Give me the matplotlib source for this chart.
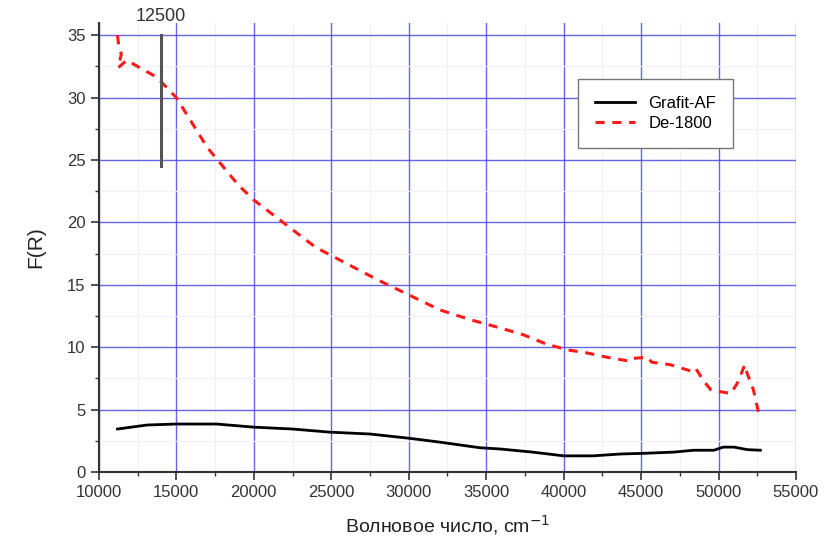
import numpy as np
import matplotlib.pyplot as plt
from matplotlib.ticker import MultipleLocator

plt.rcParams["font.family"] = ["Liberation Sans", "DejaVu Sans"]

# Grafit-AF (solid black)
grafit_x = [11200, 13100, 15000, 17600, 20000, 22500, 24900, 27500, 30100,
            32000, 34600, 35900, 38000, 40000, 41900, 43700, 45100, 47100,
            48400, 49700, 50300, 51000, 51850, 52700]
grafit_y = [3.45, 3.77, 3.85, 3.85, 3.6, 3.45, 3.2, 3.05, 2.7,
            2.4, 1.95, 1.85, 1.6, 1.3, 1.3, 1.45, 1.5, 1.6,
            1.75, 1.75, 2.0, 2.0, 1.8, 1.75]

# De-1800 (red dashed)
de_x = [11200, 11300, 11450, 11250, 11800, 12500, 13500, 14000, 15000,
        16000, 17000, 18000, 19000, 20000, 22000, 24000, 26000, 28000,
        30000, 32000, 34000, 35900, 37400, 38800, 40200, 41500, 42800,
        44200, 44400, 45400, 45700, 46900, 48200, 48500, 49100, 49500,
        50300, 50800, 51200, 51700, 51850, 52250, 52650]
de_y = [35.0, 34.0, 33.5, 32.4, 33.0, 32.5, 31.8, 31.3, 30.0,
        28.0, 26.0, 24.5, 23.0, 21.8, 19.9, 18.0, 16.7, 15.4,
        14.2, 13.0, 12.2, 11.55, 11.0, 10.3, 9.8, 9.55, 9.2,
        8.9, 9.1, 9.2, 8.8, 8.6, 8.1, 8.35, 7.2, 6.6,
        6.4, 6.3, 7.1, 8.6, 7.9, 6.6, 4.4]

marker_x = 14000
marker_y = (24.5, 35.0)
marker_label = "12500"

fig = plt.figure(figsize=(8.24, 5.42), dpi=100)
ax = fig.add_axes([0.120, 0.129, 0.846, 0.829])

ax.plot(grafit_x, grafit_y, color="black", linewidth=2.0, label="Grafit-AF")
ax.plot(de_x, de_y, color="#ff1a1a", linewidth=2.2, linestyle=(0, (3, 2.5)),
        label="De-1800")

ax.plot([marker_x, marker_x], marker_y, color="#555555", linewidth=2.2)
ax.text(marker_x, 35.8, marker_label, ha="center", va="bottom", fontsize=13,
        color="#333333")

ax.set_xlim(10000, 55000)
ax.set_ylim(0, 36)
ax.xaxis.set_major_locator(MultipleLocator(5000))
ax.xaxis.set_minor_locator(MultipleLocator(2500))
ax.yaxis.set_major_locator(MultipleLocator(5))
ax.yaxis.set_minor_locator(MultipleLocator(2.5))

ax.grid(True, which="major", color="#4a4ae6", linewidth=1.0, alpha=0.85)
ax.grid(True, which="minor", color="#f0f0fa", linewidth=0.8)
ax.set_axisbelow(True)

for side in ("top", "right"):
    ax.spines[side].set_visible(False)
for side in ("left", "bottom"):
    ax.spines[side].set_color("#333333")
    ax.spines[side].set_linewidth(1.5)

ax.tick_params(which="major", direction="out", length=6, width=1.2,
               labelsize=12, colors="#333333")
ax.tick_params(which="minor", direction="out", length=3, width=1.0,
               colors="#333333")

ax.set_xlabel("Волновое число, cm$^{-1}$", fontsize=14, color="#222222",
              labelpad=9)
ax.set_ylabel("F(R)", fontsize=15, color="#222222", labelpad=16)

leg = ax.legend(loc="upper left", bbox_to_anchor=(0.676, 0.893), fontsize=12,
                frameon=True, fancybox=False, framealpha=1, edgecolor="#777777",
                handlelength=2.4, borderpad=1.0, labelspacing=0.3)
leg.get_frame().set_linewidth(1.0)

fig.savefig("out.png", dpi=100)
